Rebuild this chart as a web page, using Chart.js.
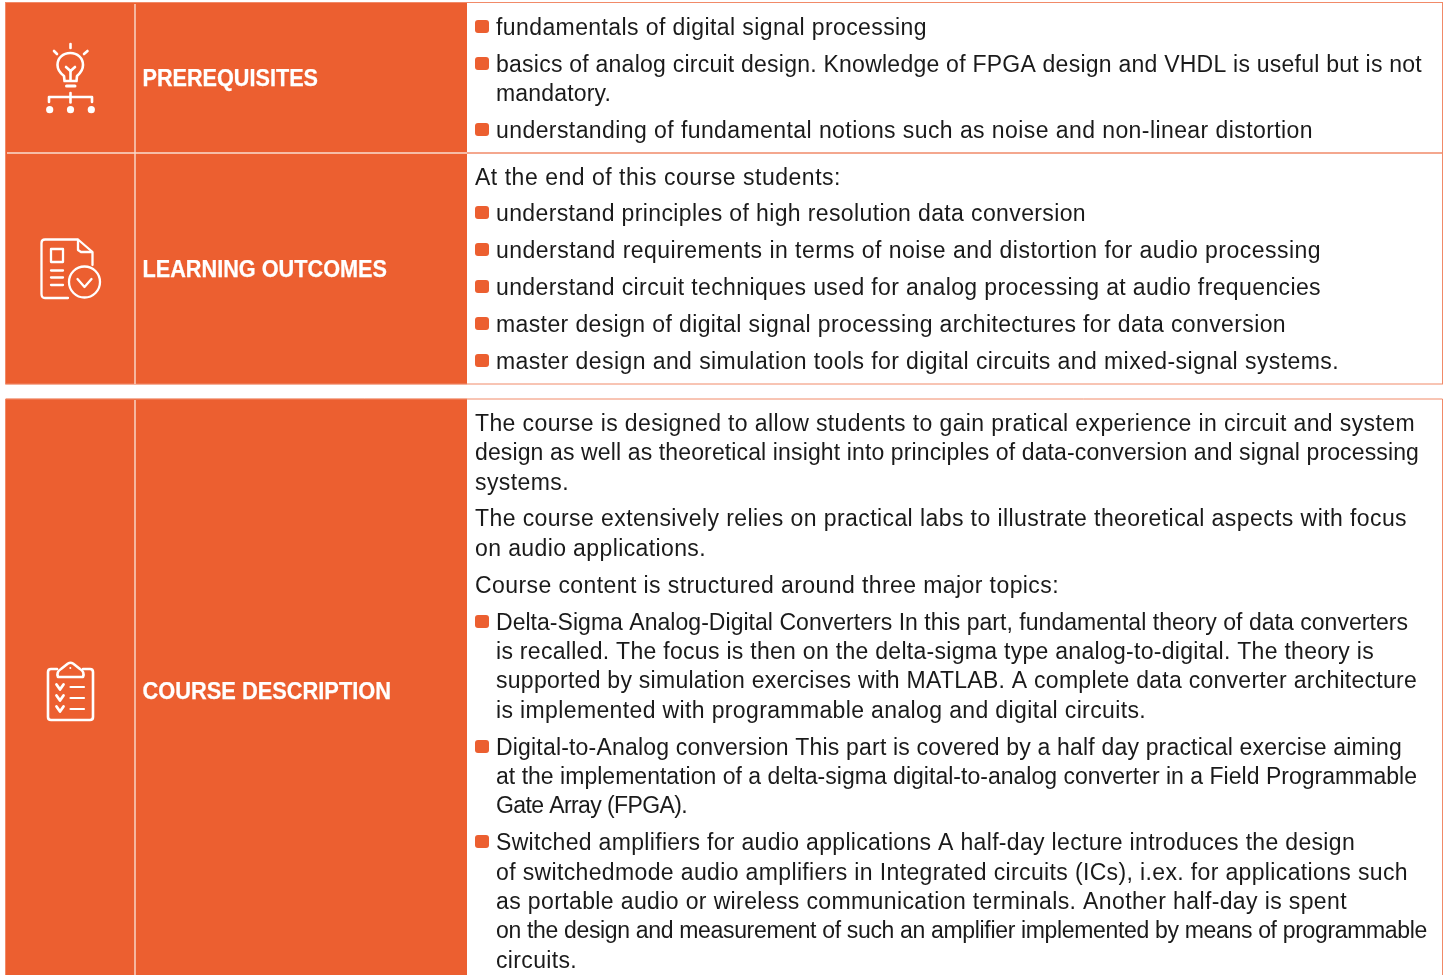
<!DOCTYPE html>
<html><head><meta charset="utf-8">
<style>html,body{margin:0;padding:0;background:#fff;overflow:hidden}#c{display:block;position:absolute;left:0;top:0}</style>
<script src="https://cdn.jsdelivr.net/npm/chart.js@4"></script></head>
<body><canvas id="c" width="1445" height="975"></canvas>
<script>
// ---- content ----
const sectionLabels = ['PREREQUISITES', 'LEARNING OUTCOMES', 'COURSE DESCRIPTION'];
const rowHeights = [150, 231, 15, 579];
const prerequisiteLines = [
 'fundamentals of digital signal processing',
 'basics of analog circuit design. Knowledge of FPGA design and VHDL is useful but is not',
 'mandatory.',
 'understanding of fundamental notions such as noise and non-linear distortion'];
const outcomeLines = [
 'At the end of this course students:',
 'understand principles of high resolution data conversion',
 'understand requirements in terms of noise and distortion for audio processing',
 'understand circuit techniques used for analog processing at audio frequencies',
 'master design of digital signal processing architectures for data conversion',
 'master design and simulation tools for digital circuits and mixed-signal systems.'];
const descriptionLines = [
 'The course is designed to allow students to gain pratical experience in circuit and system',
 'design as well as theoretical insight into principles of data-conversion and signal processing',
 'systems.',
 'The course extensively relies on practical labs to illustrate theoretical aspects with focus',
 'on audio applications.',
 'Course content is structured around three major topics:',
 'Delta-Sigma Analog-Digital Converters In this part, fundamental theory of data converters',
 'is recalled. The focus is then on the delta-sigma type analog-to-digital. The theory is',
 'supported by simulation exercises with MATLAB. A complete data converter architecture',
 'is implemented with programmable analog and digital circuits.',
 'Digital-to-Analog conversion This part is covered by a half day practical exercise aiming',
 'at the implementation of a delta-sigma digital-to-analog converter in a Field Programmable',
 'Gate Array (FPGA).',
 'Switched amplifiers for audio applications A half-day lecture introduces the design',
 'of switchedmode audio amplifiers in Integrated circuits (ICs), i.ex. for applications such',
 'as portable audio or wireless communication terminals. Another half-day is spent',
 'on the design and measurement of such an amplifier implemented by means of programmable',
 'circuits.'];

// ---- layout (pixels) ----
const bodyLayout = [ // [left, right, baseline, bullet]
 [496,927,35,1],[496,1422,72,1],[496,611,101,0],[496,1313,138,1],
 [475,841,185,0],[496,1086,221,1],[496,1321,258,1],[496,1321,295,1],[496,1286,332,1],[496,1339,369,1],
 [475,1415,431,0],[475,1419,460,0],[475,569,490,0],[475,1407,526,0],[475,706,556,0],[475,1059,593,0],
 [496,1408,630,1],[496,1374,659,0],[496,1417,688,0],[496,1146,718,0],
 [496,1402,755,1],[496,1417,784,0],[496,687,813,0],
 [496,1355,850,1],[496,1408,880,0],[496,1347,909,0],[496,1427,938,0],[496,577,968,0]];
const labelLayout = [[142.5,318,86],[142.5,387,277],[142.5,391,699]];
const ORANGE = '#ec5f30', SALMON = '#f18a68', PALE = '#fadccf';

function spacedText(ctx, txt, l, r, y) {
  ctx.letterSpacing = '0px';
  const w = ctx.measureText(txt).width;
  ctx.letterSpacing = ((r - l - w) / txt.length).toFixed(3) + 'px';
  ctx.fillText(txt, l, y);
  ctx.letterSpacing = '0px';
}
function fitText(ctx, txt, l, r, y) {
  const w = ctx.measureText(txt).width;
  ctx.save(); ctx.translate(l, y); ctx.scale((r - l) / w, 1);
  ctx.fillText(txt, 0, 0); ctx.strokeText(txt, 0, 0); ctx.restore();
}
function poly(ctx, pts) { ctx.beginPath(); pts.forEach((p,i)=> i?ctx.lineTo(p[0],p[1]):ctx.moveTo(p[0],p[1])); ctx.stroke(); }

const tablePlugin = {
  id: 'tablePlugin',
  afterDatasetsDraw(chart) {
    const ctx = chart.ctx, y = chart.scales.y;
    const top = y.getPixelForValue(0);
    const s1 = y.getPixelForValue(rowHeights[0]);
    const e1 = y.getPixelForValue(rowHeights[0]+rowHeights[1]);
    const t2 = y.getPixelForValue(rowHeights[0]+rowHeights[1]+rowHeights[2]);
    ctx.save();
    // salmon outlines of the two blocks
    ctx.strokeStyle = SALMON; ctx.lineWidth = 1;
    ctx.strokeRect(5.5, top - .5, 1437, e1 - top + .5);
    poly(ctx, [[5.5,975],[5.5,t2],[1442.5,t2],[1442.5,975]]);
    ctx.lineWidth = 1.4;
    poly(ctx, [[467,s1],[1442,s1]]);
    // pale inner rules
    ctx.strokeStyle = PALE; ctx.lineWidth = 1.4;
    poly(ctx, [[7,s1],[467,s1]]);
    poly(ctx, [[135,top+1],[135,e1]]);
    poly(ctx, [[135,t2+1],[135,975]]);
    // labels
    ctx.fillStyle = '#fff'; ctx.strokeStyle = '#fff'; ctx.lineWidth = 0.25; ctx.textBaseline = 'alphabetic';
    ctx.font = 'bold 23.5px "Liberation Sans"';
    sectionLabels.forEach((t,i)=> fitText(ctx, t, labelLayout[i][0], labelLayout[i][1], labelLayout[i][2]));
    // body
    const all = prerequisiteLines.concat(outcomeLines, descriptionLines);
    ctx.font = '23px "Liberation Sans"';
    all.forEach((t,i)=>{
      const [l,r,b,bul] = bodyLayout[i];
      if (bul) { ctx.fillStyle = ORANGE; ctx.beginPath(); ctx.roundRect(475, b-15, 14, 13, 3); ctx.fill(); }
      ctx.fillStyle = '#1a1a1a';
      spacedText(ctx, t, l, r, b);
    });
    // icons
    ctx.strokeStyle = '#fff'; ctx.fillStyle = '#fff'; ctx.lineWidth = 2.6; ctx.lineCap = 'round'; ctx.lineJoin = 'round';
    // bulb
    poly(ctx,[[70.5,44],[70.5,48]]); poly(ctx,[[54,51],[57,54]]); poly(ctx,[[87.5,51],[84,54]]);
    ctx.beginPath(); ctx.moveTo(64.5,81); ctx.lineTo(64,76);
    ctx.bezierCurveTo(60,73,57.5,70,57.5,65); ctx.bezierCurveTo(57.5,58,63,53,70.3,53);
    ctx.bezierCurveTo(77.5,53,83,58,83,65); ctx.bezierCurveTo(83,70,80.5,73,77,76);
    ctx.lineTo(76.5,81); ctx.closePath(); ctx.stroke();
    poly(ctx,[[66,67],[70.5,71],[75,67]]); poly(ctx,[[70.5,71],[70.5,80]]);
    ctx.lineWidth = 3; poly(ctx,[[66.5,86],[75,86]]); ctx.lineWidth = 2.6;
    poly(ctx,[[49,102],[49,97],[92,97],[92,102]]); poly(ctx,[[70.5,93],[70.5,102.5]]);
    [49.7,70.5,91.3].forEach(x=>{ctx.beginPath();ctx.arc(x,109.7,3.6,0,7);ctx.fill();});
    // document
    ctx.lineWidth = 2.3;
    ctx.beginPath(); ctx.moveTo(68,298); ctx.lineTo(45,298); ctx.quadraticCurveTo(41.5,298,41.5,294);
    ctx.lineTo(41.5,243); ctx.quadraticCurveTo(41.5,239.5,45,239.5); ctx.lineTo(78,239.5); ctx.lineTo(92.5,252); ctx.lineTo(92.5,265); ctx.stroke();
    poly(ctx,[[78,240],[78,250],[81,252],[92,252]]);
    ctx.strokeRect(51,249,12,13);
    [270.5,277.5,285].forEach(v=>poly(ctx,[[51,v],[63,v]]));
    ctx.beginPath(); ctx.arc(84.5,282,15.5,0,7); ctx.stroke();
    poly(ctx,[[77.5,279],[84.5,287],[91.5,279]]);
    // clipboard
    ctx.lineWidth = 2.6;
    ctx.beginPath(); ctx.moveTo(57,669); ctx.lineTo(51,669); ctx.quadraticCurveTo(48,669,48,672);
    ctx.lineTo(48,717); ctx.quadraticCurveTo(48,720,51,720); ctx.lineTo(90,720); ctx.quadraticCurveTo(93,720,93,717);
    ctx.lineTo(93,672); ctx.quadraticCurveTo(93,669,90,669); ctx.lineTo(83,669); ctx.stroke();
    ctx.beginPath(); ctx.moveTo(58,677); ctx.lineTo(83,677); ctx.quadraticCurveTo(85,672,80,669); ctx.lineTo(73,663.5);
    ctx.quadraticCurveTo(70.5,662,68,663.5); ctx.lineTo(61,669); ctx.quadraticCurveTo(56,672,58,677); ctx.stroke();
    ctx.beginPath(); ctx.arc(70.3,668,1,0,7); ctx.fill();
    [687,698,709].forEach(v=>{ ctx.lineWidth = 2.8; poly(ctx,[[56.5,v-2.5],[60,v+2.5],[63.5,v-2.5]]); ctx.lineWidth = 2.2; poly(ctx,[[70.5,v],[84,v]]); });
    ctx.restore();
  }
};

new Chart(document.getElementById('c'), {
  type: 'bar',
  data: { labels: ['rows'], datasets: rowHeights.map((h,i)=>({
    label: 'row'+i, data: [h],
    backgroundColor: i===2 ? 'rgba(0,0,0,0)' : ORANGE,
    borderWidth: 0, barPercentage: 1, categoryPercentage: 1, stack: 's' })) },
  options: {
    responsive: false, animation: false, events: [],
    layout: { padding: { left: 6, right: 978, top: 3, bottom: 0 } },
    plugins: { legend: {display:false}, title:{display:false}, tooltip:{enabled:false} },
    scales: {
      x: { display:false, stacked:true },
      y: { display:false, stacked:true, reverse:true, min:0, max:972 }
    }
  },
  plugins: [tablePlugin]
});
</script></body></html>
